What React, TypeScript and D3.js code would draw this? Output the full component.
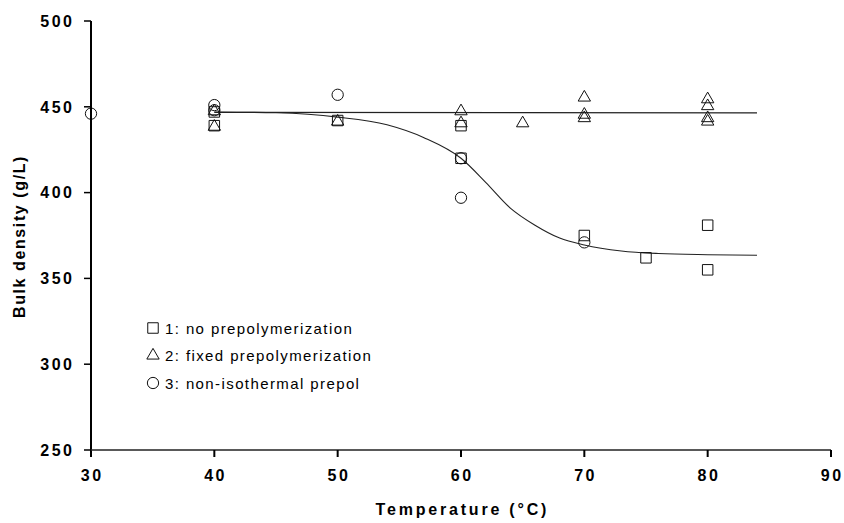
import React from "react";
import * as d3 from "d3";

// series: [temperature °C, bulk density g/L]
const noPrepol: [number, number][] = [
  [40, 447], [40, 439], [50, 442], [60, 439], [60, 420],
  [70, 375], [75, 362], [80, 381], [80, 355],
];
const fixedPrepol: [number, number][] = [
  [40, 448], [40, 439], [50, 442], [60, 448], [60, 441], [65, 441],
  [70, 456], [70, 446], [70, 444], [80, 455], [80, 451], [80, 444], [80, 442],
];
const nonIsoPrepol: [number, number][] = [
  [30, 446], [40, 451], [40, 448], [50, 457], [60, 420], [60, 397], [70, 371],
];

// fitted lines as drawn in the figure
const flatFit: [number, number][] = [[40, 446.8], [84, 446.5]];
const sigmoidFit: [number, number][] = [
  [40, 447], [45, 446.5], [50, 444], [54, 439.5], [57, 432], [60, 420],
  [62, 406], [64, 391], [66, 381], [68, 373.5], [70, 369.5], [73, 366],
  [76, 364.5], [80, 363.8], [84, 363.5],
];

const xTicks = [30, 40, 50, 60, 70, 80, 90];
const yTicks = [250, 300, 350, 400, 450, 500];
const legendLabels = [
  "1: no prepolymerization",
  "2: fixed prepolymerization",
  "3: non-isothermal prepol",
];

const W = 844;
const H = 523;
const font = "'Liberation Sans', Arial, sans-serif";
const tickLs = 2.5;

const x = d3.scaleLinear().domain([30, 90]).range([91, 831]);
const y = d3.scaleLinear().domain([250, 500]).range([450, 21]);

const square = d3.symbol().type(d3.symbolSquare).size(110);
const triangle = d3.symbol().type(d3.symbolTriangle).size(66);
const circle = d3.symbol().type(d3.symbolCircle).size(100);
const shapes = [square, triangle, circle];

const line = d3
  .line<[number, number]>()
  .x((d) => x(d[0]))
  .y((d) => y(d[1]))
  .curve(d3.curveMonotoneX);

export default function App() {
  const series = [noPrepol, fixedPrepol, nonIsoPrepol];
  return (
    <svg
      width={W}
      height={H}
      style={{ position: "absolute", left: 0, top: 0, background: "#fff" }}
      fontFamily={font}
    >
      {/* fit lines */}
      <path d={line(sigmoidFit) || ""} fill="none" stroke="#222" strokeWidth={1.1} />
      <path d={line(flatFit) || ""} fill="none" stroke="#222" strokeWidth={1.3} />

      {/* markers */}
      {series.map((s, i) =>
        s.map((d, j) => (
          <path
            key={i + "-" + j}
            d={shapes[i]() || ""}
            transform={`translate(${x(d[0])},${y(d[1]) + (i === 1 ? 1 : 0)})`}
            fill="none"
            stroke="#111"
            strokeWidth={1}
          />
        ))
      )}

      {/* y axis */}
      <line x1={x(30)} x2={x(30)} y1={y(500)} y2={y(250) + 7} stroke="#000" strokeWidth={2} />
      {yTicks.map((t) => (
        <g key={t}>
          <line x1={x(30) - 7} x2={x(30)} y1={y(t)} y2={y(t)} stroke="#000" strokeWidth={1.5} />
          <text
            x={72 + tickLs}
            y={y(t)}
            dy="0.36em"
            textAnchor="end"
            fontSize={16}
            fontWeight="bold"
            letterSpacing={tickLs}
          >
            {t}
          </text>
        </g>
      ))}

      {/* x axis */}
      <line x1={x(30)} x2={x(90)} y1={y(250)} y2={y(250)} stroke="#222" strokeWidth={1.5} />
      {xTicks.slice(1).map((t) => (
        <line key={t} x1={x(t)} x2={x(t)} y1={y(250)} y2={y(250) + 7} stroke="#000" strokeWidth={2} />
      ))}
      {xTicks.map((t) => (
        <text
          key={t}
          x={x(t) + tickLs / 2}
          y={y(250) + 31}
          textAnchor="middle"
          fontSize={16}
          fontWeight="bold"
          letterSpacing={tickLs}
        >
          {t}
        </text>
      ))}

      {/* axis titles */}
      <text
        x={(x(30) + x(90)) / 2 + 1.4}
        y={515}
        textAnchor="middle"
        fontSize={16}
        fontWeight="bold"
        letterSpacing={2.8}
      >
        Temperature (°C)
      </text>
      <text
        transform={`translate(25,${(y(250) + y(500)) / 2 + 1}) rotate(-90)`}
        textAnchor="middle"
        fontSize={16}
        fontWeight="bold"
        letterSpacing={1.6}
      >
        Bulk density (g/L)
      </text>

      {/* legend */}
      {legendLabels.map((label, i) => (
        <g key={label} transform={`translate(153,${328 + i * 27.5})`}>
          <path d={shapes[i]() || ""} fill="none" stroke="#111" strokeWidth={1} />
          <text x={12} y={5.5} fontSize={15} letterSpacing={1.4}>
            {label}
          </text>
        </g>
      ))}
    </svg>
  );
}
